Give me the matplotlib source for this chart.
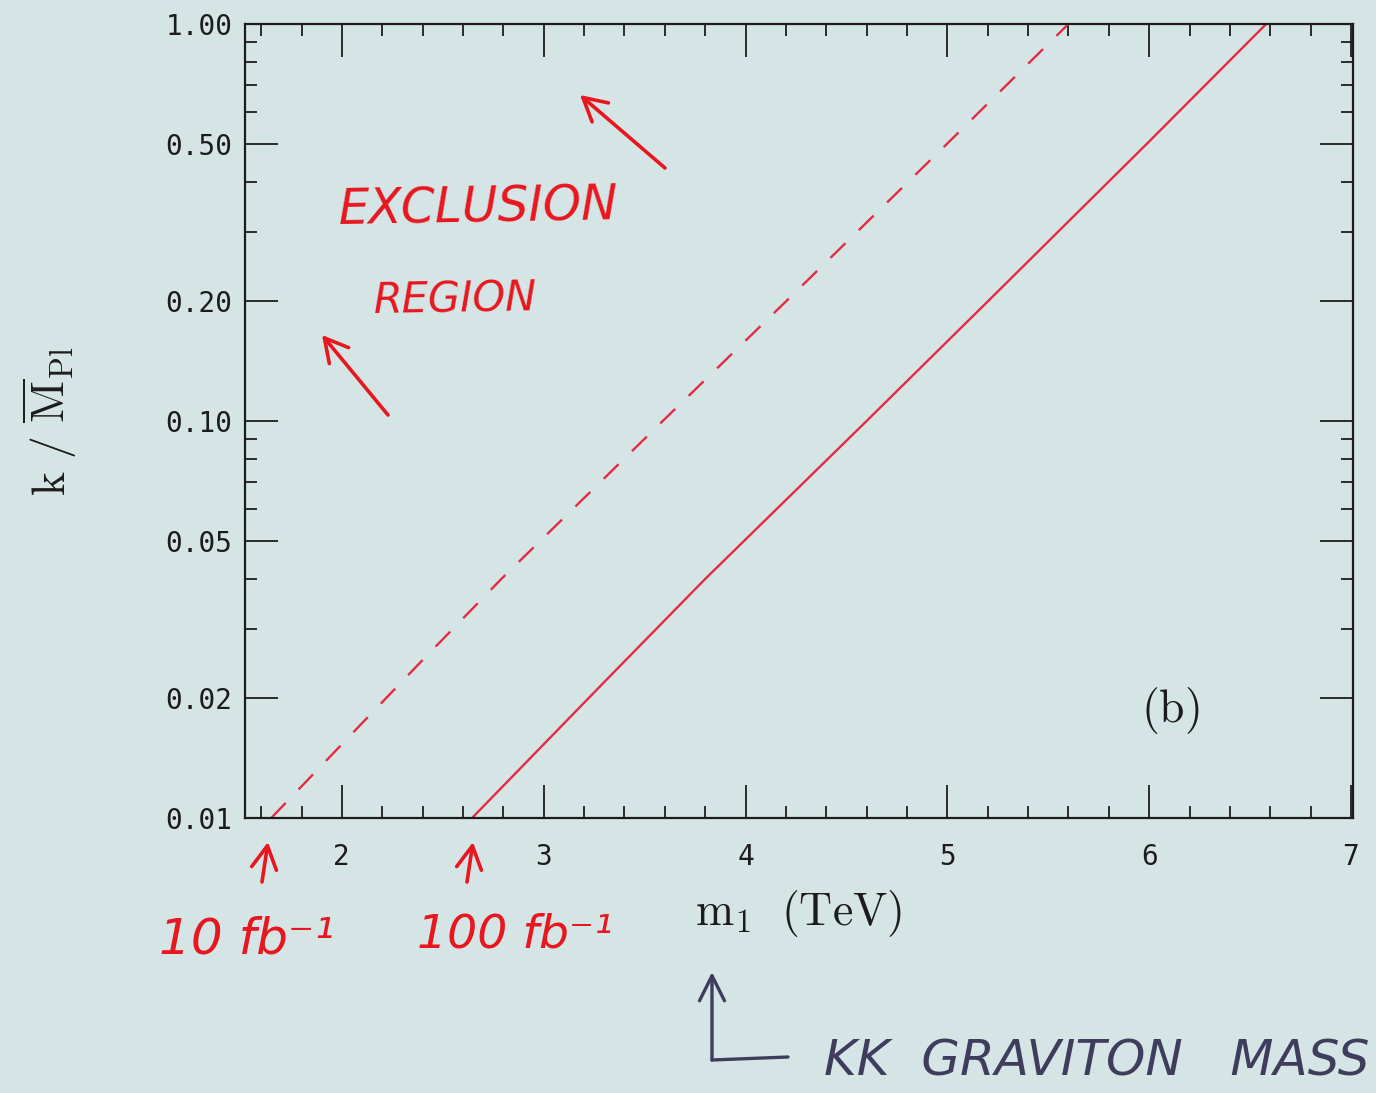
import matplotlib
matplotlib.use("Agg")
import matplotlib.pyplot as plt
from matplotlib.patches import FancyArrowPatch
from matplotlib.lines import Line2D
from matplotlib.ticker import FixedLocator, FixedFormatter, MultipleLocator, LogLocator, NullFormatter

# ---------------- data ----------------
solid_x = [2.645, 3.30, 3.80, 4.60, 5.20, 5.99, 6.58]      # 100 fb^-1 reach (TeV)
solid_y = [0.01, 0.022, 0.040, 0.10, 0.20, 0.50, 1.00]
dashed_x = [1.65, 2.40, 2.79, 3.59, 4.20, 5.00, 5.60]      # 10 fb^-1 reach (TeV)
dashed_y = [0.01, 0.025, 0.040, 0.10, 0.20, 0.50, 1.00]
x_ticks = [2, 3, 4, 5, 6, 7]
x_tick_labels = ["2", "3", "4", "5", "6", "7"]
y_ticks = [0.01, 0.02, 0.05, 0.10, 0.20, 0.50, 1.00]
y_tick_labels = ["0.01", "0.02", "0.05", "0.10", "0.20", "0.50", "1.00"]

# ---------------- style ----------------
W, H = 1376, 1093
BG = "#d5e5e5"
INK = "#1c1c1c"
LINE_RED = "#e52a45"
PEN_RED = "#e8161e"
PEN_DARK = "#3e3e5c"

plt.rcParams["mathtext.fontset"] = "cm"
plt.rcParams["lines.scale_dashes"] = False

fig = plt.figure(figsize=(W / 100, H / 100), dpi=100, facecolor=BG)
ax = fig.add_axes([245 / W, 1 - 818 / H, (1353 - 245) / W, (818 - 24) / H])
ax.set_facecolor(BG)

ax.plot(dashed_x, dashed_y, color=LINE_RED, lw=1.7, dashes=(15, 13.5))
ax.plot(solid_x, solid_y, color=LINE_RED, lw=1.7)

ax.set_yscale("log")
ax.set_xlim(1.52, 7.01)
ax.set_ylim(0.01, 1.0)

ax.xaxis.set_major_locator(FixedLocator(x_ticks))
ax.xaxis.set_major_formatter(FixedFormatter(x_tick_labels))
ax.xaxis.set_minor_locator(MultipleLocator(0.2))
ax.yaxis.set_major_locator(FixedLocator(y_ticks))
ax.yaxis.set_major_formatter(FixedFormatter(y_tick_labels))
ax.yaxis.set_minor_locator(LogLocator(base=10, subs=[2, 3, 4, 5, 6, 7, 8, 9]))
ax.yaxis.set_minor_formatter(NullFormatter())

for s in ax.spines.values():
    s.set_linewidth(1.6)
    s.set_color(INK)

ax.tick_params(which="both", direction="in", top=True, right=True, color=INK)
ax.tick_params(which="major", length=24, width=1.3)
ax.tick_params(which="minor", length=8.5, width=1.3)
ax.tick_params(axis="x", which="major", pad=18, labelsize=20, labelcolor=INK)
ax.tick_params(axis="y", which="major", pad=9, labelsize=20, labelcolor=INK)
for lab in ax.get_xticklabels() + ax.get_yticklabels():
    lab.set_family("DejaVu Sans Mono")

ax.set_xlabel(r"$\mathrm{m_1\ \ (TeV)}$", fontsize=33, color=INK, labelpad=12)
ax.set_ylabel(r"$\mathrm{k\ /\ \overline{M}_{Pl}}$", fontsize=33, color=INK, labelpad=62)

ax.text(0.835, 0.135, r"$\mathrm{(b)}$", transform=ax.transAxes, fontsize=33,
        color=INK, ha="center", va="center")


# ---------------- handwritten-style annotations ----------------
def P(px, py):
    return (px / W, 1 - py / H)


hand = dict(family=["DejaVu Sans"], style="italic")

fig.text(*P(478, 208), "EXCLUSION", color=PEN_RED, fontsize=35, ha="center", va="center",
         rotation=1, **hand)
fig.text(*P(455, 300), "REGION", color=PEN_RED, fontsize=30, ha="center", va="center",
         rotation=1, **hand)
fig.text(*P(247, 940), "10 fb⁻¹", color=PEN_RED, fontsize=36, ha="center", va="center", **hand)
fig.text(*P(515, 935), "100 fb⁻¹", color=PEN_RED, fontsize=34, ha="center", va="center", **hand)
fig.text(*P(1097, 1062), "KK  GRAVITON   MASS", color=PEN_DARK, fontsize=36, ha="center",
         va="center", **hand)

red_arrow = dict(arrowstyle="->,head_length=0.55,head_width=0.3", color=PEN_RED, lw=2.6,
                 shrinkA=0, shrinkB=0, mutation_scale=30, capstyle="round", joinstyle="round")
for head, tail in [((322, 335), (388, 415)), ((580, 95), (665, 168)),
                   ((268, 842), (262, 882)), ((473, 842), (467, 882))]:
    fig.add_artist(FancyArrowPatch(P(*tail), P(*head), transform=fig.transFigure, **red_arrow))

dark_arrow = dict(arrowstyle="->,head_length=0.6,head_width=0.3", color=PEN_DARK, lw=2.4,
                  shrinkA=0, shrinkB=0, mutation_scale=30, capstyle="round", joinstyle="round")
fig.add_artist(FancyArrowPatch(P(712, 1060), P(712, 972), transform=fig.transFigure, **dark_arrow))
fig.add_artist(Line2D([712 / W, 788 / W], [1 - 1060 / H, 1 - 1057 / H],
                      transform=fig.transFigure, color=PEN_DARK, lw=2.4, solid_capstyle="round"))

fig.savefig("out.png", dpi=100, facecolor=BG)
